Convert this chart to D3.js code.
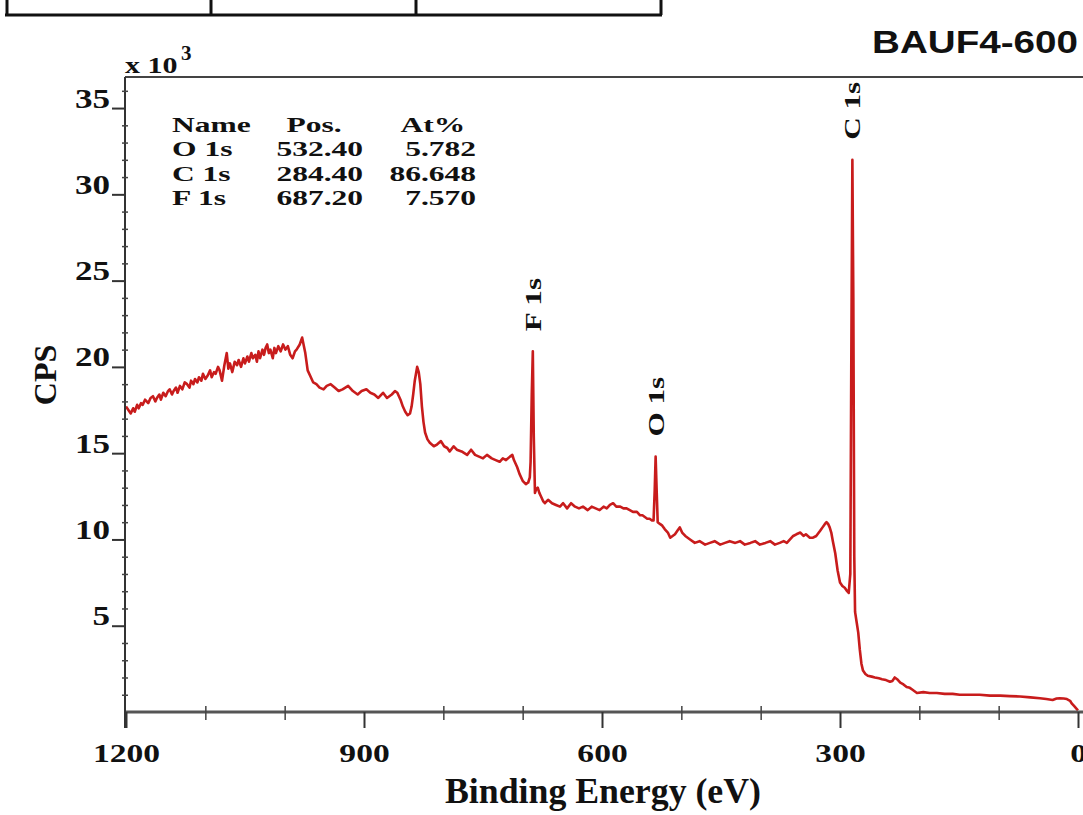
<!DOCTYPE html>
<html>
<head>
<meta charset="utf-8">
<script src="https://cdn.jsdelivr.net/npm/d3@7"></script>
<style>
  body { margin: 0; background: #fff; }
  svg { display: block; }
  .serif { font-family: "Liberation Serif", "Times New Roman", serif; font-weight: bold; fill: #111; }
</style>
</head>
<body>
<svg id="chart"></svg>
<script>
// survey spectrum (binding energy in eV, counts in x10^3 CPS)
const bindingEnergy = [
  1200, 1197, 1194, 1191, 1189, 1186, 1184, 1181, 1179, 1176,
  1172, 1169, 1166, 1163, 1161, 1158, 1156, 1153, 1150, 1147,
  1145, 1142, 1140, 1137, 1135, 1132, 1129, 1126, 1123, 1120,
  1118, 1115, 1113, 1110, 1108, 1105, 1103, 1100, 1097, 1094,
  1092, 1089, 1087, 1084, 1082, 1079, 1076, 1073, 1071, 1069,
  1066, 1063, 1060, 1058, 1055, 1052, 1050, 1047, 1045, 1042,
  1040, 1037, 1035, 1033, 1031, 1028, 1026, 1024, 1022, 1020,
  1018, 1015, 1013, 1011, 1008, 1005, 1002, 999, 996, 993,
  990, 987, 985, 981,
  978, 974, 971, 967, 964, 960, 956, 951, 947, 942,
  937, 932, 927, 920, 914, 908, 903, 897, 892, 887,
  882, 876, 871, 865, 861, 858, 854, 851, 848, 845,
  842, 840, 838, 836, 833, 831, 829, 827, 825, 823,
  820, 817, 812, 808, 803, 799, 795, 792, 787, 783,
  777, 770, 765, 760, 755, 750, 745, 739, 734, 729,
  725, 721, 716, 713, 711, 709, 707, 704, 700, 696,
  693, 691, 690, 688.5, 687.2, 686, 684.5, 683, 681, 679,
  677, 674, 672, 668, 663, 658, 653, 649, 644, 639,
  634, 629, 624, 618, 613, 608, 603, 598, 594, 590,
  586, 582, 577, 573, 569, 565, 561, 556, 552, 549,
  546, 543, 540, 537, 535, 533.6, 532.4, 531.2, 529.8, 527,
  524, 521, 517, 514, 511, 508, 505, 502, 499, 495,
  492, 489, 483, 477, 470, 464, 458, 451, 445, 439,
  432, 426, 420, 413, 407, 401, 394, 388, 382, 376,
  371, 367, 363, 359, 355, 350, 346, 343, 338, 334,
  330, 325, 322, 319, 317, 315, 313, 311, 309, 306,
  303, 300, 297, 294, 291, 289, 287, 285.8, 284.4, 283.2,
  282, 281, 279, 277, 275, 273, 271, 268, 265, 260,
  256, 251, 247, 242, 237, 234, 231, 228, 224, 220,
  216, 212, 209, 206, 203, 195, 187, 178, 168, 158,
  149, 136, 124, 111, 98, 86, 73, 60, 48, 40,
  32, 27, 23, 18, 14, 10, 8, 5, 2, 0
];
const cps = [
  17.7, 17.5, 17.3, 17.6, 17.4, 17.8, 17.6, 17.9, 17.8, 18.1,
  17.9, 18.2, 18.3, 18.0, 18.2, 18.4, 18.1, 18.5, 18.3, 18.6,
  18.7, 18.4, 18.6, 18.8, 18.5, 18.9, 18.7, 19.1, 19.0, 18.8,
  19.2, 19.0, 19.3, 19.1, 19.4, 19.2, 19.6, 19.3, 19.5, 19.8,
  19.4, 19.7, 19.6, 20.0, 19.8, 19.2, 20.1, 20.8, 19.9, 20.2,
  19.7, 20.3, 20.1, 20.4, 20.0, 20.5, 20.2, 20.6, 20.3, 20.8,
  20.5, 20.7, 20.3, 20.9, 20.5, 21.0, 20.7, 21.1, 21.3, 20.8,
  21.0, 20.5, 21.1, 20.8, 21.2, 20.9, 21.3, 21.0, 21.2, 20.7,
  20.5, 20.9, 21.0, 21.3,
  21.7, 20.8, 19.8, 19.4, 19.1, 19.0, 18.8, 18.7, 18.9, 19.0,
  18.8, 18.6, 18.7, 18.9, 18.6, 18.4, 18.6, 18.7, 18.5, 18.4,
  18.2, 18.5, 18.2, 18.4, 18.6, 18.5, 18.1, 17.7, 17.4, 17.2,
  17.3, 17.7, 18.4, 19.2, 20.0, 19.7, 19.0, 17.7, 16.8, 16.2,
  15.8, 15.6, 15.4, 15.5, 15.7, 15.4, 15.3, 15.1, 15.4, 15.2,
  15.1, 14.9, 15.2, 14.9, 14.8, 14.7, 14.9, 14.7, 14.6, 14.5,
  14.7, 14.6, 14.8, 14.9, 14.6, 14.4, 14.2, 13.8, 13.4, 13.2,
  13.3, 13.6, 14.5, 18.5, 20.9, 16.0, 12.7, 12.9, 13.0, 12.7,
  12.5, 12.2, 12.1, 12.3, 12.1, 12.0, 11.9, 12.1, 11.8, 12.1,
  11.9, 11.8, 11.9, 11.7, 11.9, 11.8, 11.7, 11.9, 11.8, 12.0,
  12.1, 11.9, 11.9, 11.8, 11.8, 11.7, 11.6, 11.6, 11.4, 11.4,
  11.3, 11.2, 11.2, 11.1, 11.1, 12.8, 14.8, 13.0, 11.0, 10.9,
  10.8, 10.6, 10.4, 10.1, 10.2, 10.3, 10.5, 10.7, 10.4, 10.2,
  10.1, 10.0, 9.8, 9.9, 9.7, 9.8, 9.9, 9.7, 9.8, 9.9,
  9.8, 9.9, 9.7, 9.8, 9.9, 9.7, 9.8, 9.9, 9.7, 9.8,
  9.9, 9.8, 10.0, 10.2, 10.3, 10.4, 10.2, 10.3, 10.1, 10.1,
  10.2, 10.5, 10.7, 10.9, 11.0, 10.9, 10.7, 10.4, 9.9, 9.2,
  8.2, 7.5, 7.3, 7.2, 7.0, 6.9, 8.0, 20.0, 32.0, 24.0,
  9.0, 5.8, 5.2, 4.6, 3.6, 2.8, 2.4, 2.2, 2.1, 2.05,
  2.0, 1.95, 1.9, 1.85, 1.75, 1.8, 2.0, 1.9, 1.7, 1.6,
  1.45, 1.4, 1.3, 1.2, 1.1, 1.15, 1.1, 1.1, 1.05, 1.05,
  1.0, 1.0, 1.0, 0.95, 0.95, 0.92, 0.9, 0.85, 0.8, 0.75,
  0.7, 0.78, 0.8, 0.78, 0.75, 0.65, 0.5, 0.35, 0.2, 0.1
];

// quantification table
const peakNames = ["O 1s", "C 1s", "F 1s"];
const peakPos = [532.40, 284.40, 687.20];
const peakAt = [5.782, 86.648, 7.570];

const xMajor = [1200, 900, 600, 300, 0];
const xMinor = [1100, 1000, 800, 700, 500, 400, 200, 100];
const yMajor = [5, 10, 15, 20, 25, 30, 35];
const yMinor = d3.range(1, 37).filter(v => v % 5 !== 0);

const width = 1083, height = 815;
const svg = d3.select("#chart").attr("width", width).attr("height", height);

const x = d3.scaleLinear().domain([1200, 0]).range([126, 1078]);
const y = d3.scaleLinear().domain([0, 36.8]).range([712, 77]);

// widen text horizontally, the picture's lettering is stretched
function stretch(sel, k) {
  sel.each(function() {
    const w = this.getComputedTextLength();
    d3.select(this).attr("textLength", w * k).attr("lengthAdjust", "spacingAndGlyphs");
  });
}

// bit of a table above the chart
const tbl = svg.append("g").attr("stroke", "#111").attr("stroke-width", 3);
tbl.append("line").attr("x1", 5).attr("x2", 662).attr("y1", 15).attr("y2", 15);
[7, 211, 416, 661].forEach(cx => {
  tbl.append("line").attr("x1", cx).attr("x2", cx).attr("y1", 0).attr("y2", 15);
});

// top frame
svg.append("line").attr("x1", 125).attr("x2", width).attr("y1", 77).attr("y2", 77)
  .attr("stroke", "#444").attr("stroke-width", 2);

// spectrum
const line = d3.line()
  .x((d, i) => x(bindingEnergy[i]))
  .y(d => y(d));
svg.append("path")
  .datum(cps)
  .attr("fill", "none")
  .attr("stroke", "#c81c1c")
  .attr("stroke-width", 2.6)
  .attr("stroke-linejoin", "round")
  .attr("d", line);

// x axis
svg.append("line").attr("x1", 125).attr("x2", width).attr("y1", 712).attr("y2", 712)
  .attr("stroke", "#555").attr("stroke-width", 3);
const gx = svg.append("g").attr("transform", "translate(0,712)")
  .call(d3.axisBottom(x).tickValues(xMajor).tickSize(16).tickFormat(d3.format("d")));
gx.select(".domain").remove();
gx.selectAll("line").attr("stroke", "#333").attr("stroke-width", 2);
gx.selectAll("text").attr("class", "serif").attr("y", 50).attr("dy", 0)
  .style("font-size", "26px").call(stretch, 1.29);
const gxm = svg.append("g").attr("transform", "translate(0,706)")
  .call(d3.axisBottom(x).tickValues(xMinor).tickSize(14).tickFormat(""));
gxm.select(".domain").remove();
gxm.selectAll("line").attr("stroke", "#444").attr("stroke-width", 1.5);

// y axis
svg.append("line").attr("x1", 125).attr("x2", 125).attr("y1", 77).attr("y2", 728)
  .attr("stroke", "#333").attr("stroke-width", 2);
const gy = svg.append("g").attr("transform", "translate(125,0)")
  .call(d3.axisLeft(y).tickValues(yMajor).tickSize(13));
gy.select(".domain").remove();
gy.selectAll("line").attr("stroke", "#333").attr("stroke-width", 2);
gy.selectAll("text").attr("class", "serif").attr("x", -15).attr("dy", "-1px")
  .style("font-size", "27px").call(stretch, 1.3);
const gym = svg.append("g").attr("transform", "translate(128,0)")
  .call(d3.axisLeft(y).tickValues(yMinor).tickSize(6).tickFormat(""));
gym.select(".domain").remove();
gym.selectAll("line").attr("stroke", "#444").attr("stroke-width", 1.5);

// axis titles
svg.append("text").attr("class", "serif")
  .attr("x", 603).attr("y", 803).attr("text-anchor", "middle")
  .style("font-size", "35px").text("Binding Energy (eV)")
  .attr("textLength", 316).attr("lengthAdjust", "spacingAndGlyphs");

svg.append("text").attr("class", "serif")
  .attr("transform", "translate(56,375) rotate(-90)")
  .attr("text-anchor", "middle")
  .style("font-size", "32px").text("CPS");

svg.append("text").attr("class", "serif").attr("x", 125).attr("y", 73)
  .style("font-size", "24px").text("x 10")
  .call(stretch, 1.25);
svg.append("text").attr("class", "serif").attr("x", 181).attr("y", 60)
  .style("font-size", "21px").text("3");

// sample name
svg.append("text")
  .attr("x", 872).attr("y", 53)
  .style("font-family", "'Liberation Sans', Arial, sans-serif")
  .style("font-weight", "bold").style("font-size", "31px").attr("fill", "#111")
  .text("BAUF4-600")
  .attr("textLength", 206).attr("lengthAdjust", "spacingAndGlyphs");

// quantification table inside the plot
const legend = svg.append("g").attr("class", "legend");
const rowY = i => 132 + i * 24.4;
legend.append("text").attr("class", "serif").attr("x", 172).attr("y", rowY(0)).text("Name");
legend.append("text").attr("class", "serif").attr("x", 314).attr("y", rowY(0))
  .attr("text-anchor", "middle").text("Pos.");
legend.append("text").attr("class", "serif").attr("x", 433).attr("y", rowY(0))
  .attr("text-anchor", "middle").text("At%");
peakNames.forEach((name, i) => {
  legend.append("text").attr("class", "serif").attr("x", 172).attr("y", rowY(i + 1)).text(name);
  legend.append("text").attr("class", "serif").attr("x", 363).attr("y", rowY(i + 1))
    .attr("text-anchor", "end").text(peakPos[i].toFixed(2));
  legend.append("text").attr("class", "serif").attr("x", 476).attr("y", rowY(i + 1))
    .attr("text-anchor", "end").text(peakAt[i].toFixed(3));
});
legend.selectAll("text").style("font-size", "21px").call(stretch, 1.5);

// peak labels above each line
peakNames.forEach((name, i) => {
  const top = d3.max(bindingEnergy.map((be, j) => Math.abs(be - peakPos[i]) < 3 ? cps[j] : 0));
  svg.append("text").attr("class", "serif")
    .attr("transform", `translate(${x(peakPos[i])},${y(top) - 20}) rotate(-90)`)
    .attr("dy", "0.33em")
    .style("font-size", "24px")
    .text(name)
    .call(stretch, 1.3);
});
</script>
</body>
</html>
